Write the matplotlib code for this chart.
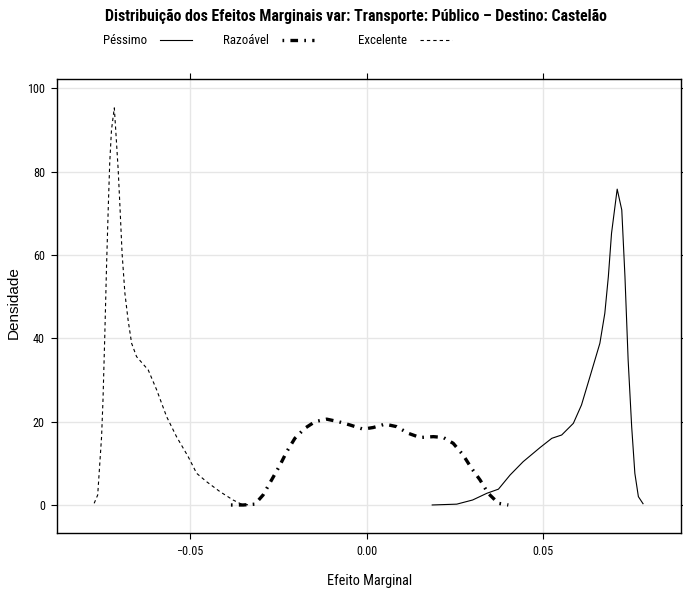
"""Densidade dos efeitos marginais (Transporte: Público, Destino: Castelão)."""

import matplotlib

matplotlib.use("Agg")
import matplotlib.pyplot as plt
from matplotlib.lines import Line2D

# --- data --------------------------------------------------------------------

excelente_x = [-0.0771, -0.0761, -0.0750, -0.0746, -0.0741, -0.0736, -0.0731, -0.0727,
               -0.0722, -0.0714, -0.0710, -0.0703, -0.0698, -0.0692, -0.0684, -0.0675,
               -0.0665, -0.0651, -0.0618, -0.0594, -0.0566, -0.0538, -0.0505, -0.0481,
               -0.0453, -0.0415, -0.0378, -0.0354, -0.0330]
excelente_y = [0.4, 2.4, 16.4, 25.2, 40.4, 57.2, 71.6, 82.0, 90.0, 95.3, 90.0, 80.4,
               71.6, 60.4, 50.8, 44.4, 38.8, 35.6, 32.4, 27.6, 21.2, 16.4, 11.6, 7.6,
               5.6, 3.2, 1.2, 0.2, 0.0]

razoavel_x = [-0.0384, -0.0349, -0.0316, -0.0293, -0.0269, -0.0245, -0.0226, -0.0203,
              -0.0175, -0.0146, -0.0113, -0.0080, -0.0047, -0.0010, 0.0019, 0.0052,
              0.0085, 0.0118, 0.0151, 0.0189, 0.0217, 0.0245, 0.0273, 0.0297, 0.0321,
              0.0344, 0.0373, 0.0401]
razoavel_y = [0.0, 0.0, 0.2, 2.4, 6.0, 9.6, 12.8, 16.0, 18.4, 20.0, 20.6, 20.0, 19.2,
              18.2, 18.6, 19.4, 18.8, 17.2, 16.2, 16.4, 16.2, 14.8, 12.0, 8.8, 6.0,
              2.8, 0.4, 0.0]

pessimo_x = [0.0184, 0.0255, 0.0300, 0.0340, 0.0373, 0.0406, 0.0443, 0.0491, 0.0524,
             0.0552, 0.0585, 0.0608, 0.0632, 0.0660, 0.0674, 0.0684, 0.0693, 0.0709,
             0.0722, 0.0731, 0.0740, 0.0750, 0.0759, 0.0769, 0.0783]
pessimo_y = [0.0, 0.2, 1.2, 2.8, 3.8, 7.2, 10.4, 13.8, 16.0, 16.8, 19.6, 24.0, 30.8,
             38.8, 46.0, 54.8, 65.2, 75.8, 70.8, 54.8, 34.8, 18.8, 7.6, 2.0, 0.2]

series_names = ["Péssimo", "Razoável", "Excelente"]
x_ticks = [-0.05, 0.0, 0.05]
x_tick_labels = ["\u22120.05", "0.00", "0.05"]
y_ticks = [0, 20, 40, 60, 80, 100]

TITLE = "Distribuição dos Efeitos Marginais var: Transporte: Público \u2013 Destino: Castelão"

# --- styling -----------------------------------------------------------------

NARROW = ["Roboto Condensed", "DejaVu Sans"]
REGULAR = ["Liberation Sans", "DejaVu Sans"]
plt.rcParams["font.family"] = NARROW
plt.rcParams["lines.scale_dashes"] = False

STYLES = {
    "Péssimo": dict(color="black", lw=0.8, linestyle="-"),
    "Razoável": dict(color="black", lw=2.4, linestyle=(0, (1.2, 4.5, 5.5, 4.5))),
    "Excelente": dict(color="black", lw=0.8, linestyle=(0, (2.4, 2.2))),
}

W, H = 683, 595


def main() -> None:
    fig = plt.figure(figsize=(W / 100, H / 100), dpi=100)
    ax = fig.add_axes([56.7 / W, 1 - 532.7 / H, (681.5 - 56.7) / W, (532.7 - 78.7) / H])

    for name, xs, ys in zip(series_names,
                            [pessimo_x, razoavel_x, excelente_x],
                            [pessimo_y, razoavel_y, excelente_y]):
        ax.plot(xs, ys, solid_capstyle="butt", dash_capstyle="butt", **STYLES[name])

    ax.set_xlim(-0.0877, 0.0891)
    ax.set_ylim(-6.65, 102.3)
    ax.set_xticks(x_ticks, x_tick_labels)
    ax.set_yticks(y_ticks)
    ax.grid(True, color="#e6e6e6", lw=1.0)
    ax.set_axisbelow(True)
    ax.tick_params(direction="out", length=4.5, width=0.8, labelsize=8.7, pad=4,
                   top=True, right=True)
    for spine in ax.spines.values():
        spine.set_linewidth(1.0)

    ax.set_xlabel("Efeito Marginal", fontsize=10.3, labelpad=12)
    fig.text(14 / W, 1 - 303 / H, "Densidade", rotation=90, ha="center", va="center",
             fontsize=11, family=REGULAR)

    fig.text(356 / W, 1 - 17 / H, TITLE, ha="center", va="center",
             fontsize=11.4, fontweight="bold")

    # key across the top: label, then a short sample of the line
    text_x = [103, 223, 358]
    for name, tx in zip(series_names, text_x):
        t = fig.text(tx / W, 1 - 40 / H, name, ha="left", va="center", fontsize=9.3)
        fig.canvas.draw()
        bb = t.get_window_extent()
        x0 = bb.x1 + 13
        fig.add_artist(Line2D([x0 / W, (x0 + 32) / W], [1 - 40 / H, 1 - 40 / H],
                              transform=fig.transFigure, **STYLES[name]))

    fig.savefig("out.png", dpi=100)


if __name__ == "__main__":
    main()
